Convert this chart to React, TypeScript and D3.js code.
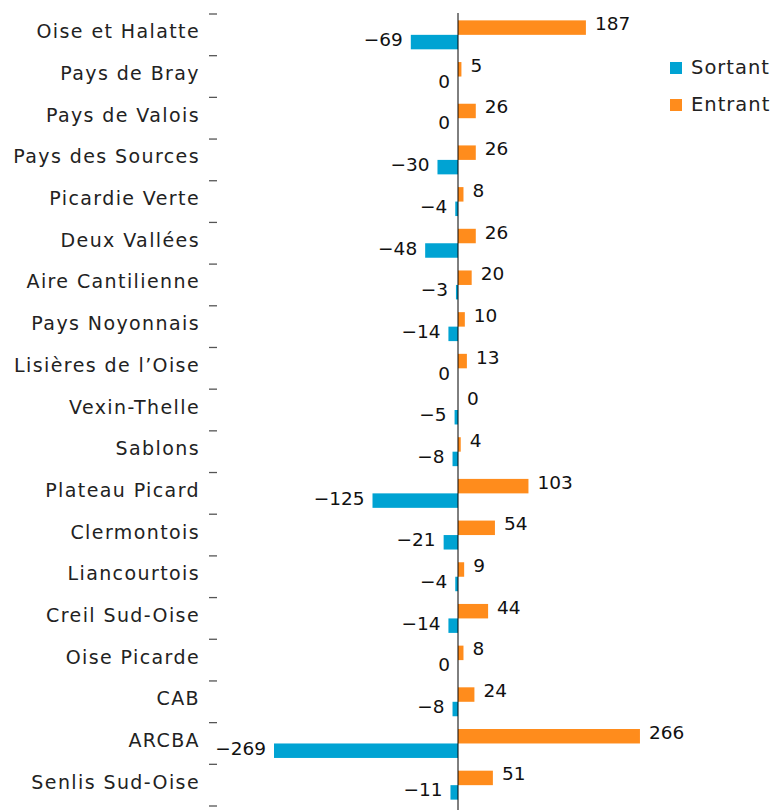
import React from "react";
import * as d3 from "d3";

const categories = [
  "Oise et Halatte",
  "Pays de Bray",
  "Pays de Valois",
  "Pays des Sources",
  "Picardie Verte",
  "Deux Vallées",
  "Aire Cantilienne",
  "Pays Noyonnais",
  "Lisières de l’Oise",
  "Vexin-Thelle",
  "Sablons",
  "Plateau Picard",
  "Clermontois",
  "Liancourtois",
  "Creil Sud-Oise",
  "Oise Picarde",
  "CAB",
  "ARCBA",
  "Senlis Sud-Oise",
];

const sortant = [-69, 0, 0, -30, -4, -48, -3, -14, 0, -5, -8, -125, -21, -4, -14, 0, -8, -269, -11];
const entrant = [187, 5, 26, 26, 8, 26, 20, 10, 13, 0, 4, 103, 54, 9, 44, 8, 24, 266, 51];

const seriesNames = ["Entrant", "Sortant"];
const colors: Record<string, string> = { Sortant: "#00a3d3", Entrant: "#ff8c1c" };

const width = 773;
const height = 810;

export default function App() {
  const y = d3.scaleBand().domain(categories).range([14, 806]).paddingInner(0).paddingOuter(0);
  const inner = d3
    .scaleBand()
    .domain(seriesNames)
    .range([0, y.bandwidth()])
    .paddingInner(0)
    .paddingOuter(0.44);
  const x = d3.scaleLinear().domain([-300, 300]).range([252.8, 663.2]);
  const fmt = d3.format("d");

  const rows = categories.map((c, i) => ({ c, s: sortant[i], e: entrant[i] }));
  const tickYs = [...categories.map((c) => y(c) as number), 806];

  return (
    <svg
      width={width}
      height={height}
      style={{ position: "absolute", left: 0, top: 0, background: "#fff" }}
    >
      {tickYs.map((t, i) => (
        <line key={"t" + i} x1={209} x2={217} y1={t} y2={t} stroke="#555" strokeWidth={1.3} />
      ))}

      {rows.map((d) => {
        const by = y(d.c) as number;
        const ey = by + (inner("Entrant") as number);
        const sy = by + (inner("Sortant") as number);
        const bh = inner.bandwidth();
        return (
          <g key={d.c}>
            <text
              x={200}
              y={by + y.bandwidth() / 2 - 2}
              textAnchor="end"
              dominantBaseline="middle"
              fontFamily="'DejaVu Sans', sans-serif"
              fontSize={19}
              letterSpacing={1.4}
              fill="#222"
            >
              {d.c}
            </text>
            <rect x={x(0)} y={ey} width={x(d.e) - x(0)} height={bh} fill={colors.Entrant} />
            <rect x={x(d.s)} y={sy} width={x(0) - x(d.s)} height={bh} fill={colors.Sortant} />
            <text
              x={x(d.e) + 9}
              y={ey + bh / 2 - 2.5}
              dominantBaseline="middle"
              fontFamily="'DejaVu Sans', sans-serif"
              fontSize={18.5}
              fill="#111"
            >
              {fmt(d.e)}
            </text>
            <text
              x={x(d.s) - 8}
              y={sy + bh / 2 - 1}
              textAnchor="end"
              dominantBaseline="middle"
              fontFamily="'DejaVu Sans', sans-serif"
              fontSize={18.5}
              fill="#111"
            >
              {fmt(d.s)}
            </text>
          </g>
        );
      })}

      <line x1={x(0)} x2={x(0)} y1={13} y2={height} stroke="#000" strokeWidth={1} />

      {["Sortant", "Entrant"].map((s, i) => (
        <g key={s} transform={`translate(670, ${62 + i * 37})`}>
          <rect x={0} y={0} width={12} height={12} fill={colors[s]} />
          <text
            x={21}
            y={6}
            dominantBaseline="middle"
            fontFamily="'DejaVu Sans', sans-serif"
            fontSize={19.5}
            letterSpacing={1}
            fill="#222"
          >
            {s}
          </text>
        </g>
      ))}
    </svg>
  );
}
